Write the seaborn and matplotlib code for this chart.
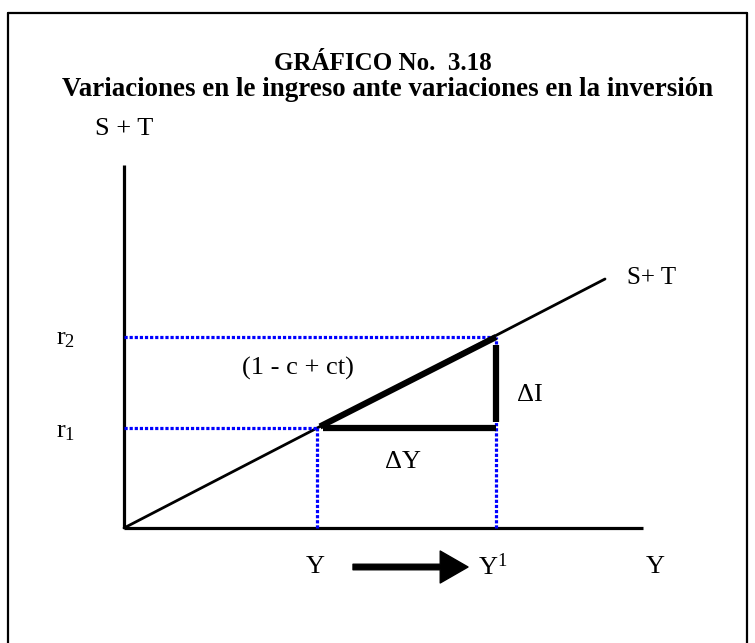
import matplotlib
matplotlib.use("Agg")
import matplotlib.pyplot as plt
import seaborn as sns
import pandas as pd

sns.set_theme(style="white", rc={"text.color": "black"})
plt.rcParams["font.family"] = ["Liberation Serif", "DejaVu Serif"]
plt.rcParams["mathtext.fontset"] = "custom"
plt.rcParams["mathtext.rm"] = "Liberation Serif"
plt.rcParams["mathtext.it"] = "Liberation Serif"

# Savings + taxes schedule (income on x, S+T on y)
line_income = [0, 481]
line_saving = [0, 249]
# Initial and final income, with the matching S+T levels
income_levels = [193, 372]
st_levels = [100, 191]
axis_x_end = 519
axis_y_end = 363

title = "GRÁFICO No.  3.18"
subtitle = "Variaciones en le ingreso ante variaciones en la inversión"

W, H = 755, 643
fig = plt.figure(figsize=(W / 100, H / 100), dpi=100)
ax = fig.add_axes([0, 0, 1, 1])
ax.set_xlim(-124, W - 124)
ax.set_ylim(528 - H, 528)
ax.axis("off")

# outer frame: top, left and right edges
def fig_line(xs, ys):
    fig.add_artist(plt.Line2D([x / W for x in xs], [1 - y / H for y in ys],
                              color="black", lw=1.6, transform=fig.transFigure))

fig_line([8, 747], [13, 13])
fig_line([8, 8], [13, H])
fig_line([747, 747], [13, H])

# axes
ax.plot([0, 0], [0, axis_y_end], color="black", lw=2.3, solid_capstyle="butt")
ax.plot([0, axis_x_end], [0, 0], color="black", lw=2.3, solid_capstyle="butt")

# S+T line
df = pd.DataFrame({"Y": line_income, "ST": line_saving})
sns.lineplot(data=df, x="Y", y="ST", ax=ax, color="black", lw=2.0)

y0, y1 = income_levels
r1, r2 = st_levels
blue = "#0000ff"
dot = dict(color=blue, lw=2.3, linestyle=(0, (1, 0.6)))
ax.plot([0, y1], [r2, r2], **dot)
ax.plot([0, y0], [r1, r1], **dot)
ax.plot([y0, y0], [0, r1], **dot)
ax.plot([y1, y1], [0, r2], **dot)

# highlighted triangle
ax.plot([y0 + 3, y1], [r1 + 1.5, r2], color="black", lw=4.5, solid_capstyle="butt")
ax.plot([y0 + 6, y1], [r1, r1], color="black", lw=4.5, solid_capstyle="butt")
ax.plot([y1, y1], [r1 + 6, r2 - 8], color="black", lw=4.5, solid_capstyle="butt")

fs = 19
ax.text(174, 160, "(1 - c + ct)", fontsize=fs, ha="center", va="center")
ax.text(y1 + 21, 133, "ΔI", fontsize=fs, ha="left", va="center")
ax.text(279, 66, "ΔY", fontsize=fs, ha="center", va="center")
ax.text(503, 250, "S+ T", fontsize=fs - 1, ha="left", va="center")
ax.text(-58, r2 - 2, r"r$_2$", fontsize=fs, ha="center", va="center")
ax.text(-58, r1 - 4, r"r$_1$", fontsize=fs, ha="center", va="center")
ax.text(0, 399, "S + T", fontsize=fs, ha="center", va="center")
ax.text(y0 - 2, -39, "Y", fontsize=fs, ha="center", va="center")
ax.text(y1 - 3, -39, r"Y$^1$", fontsize=fs, ha="center", va="center")
ax.text(531, -39, "Y", fontsize=fs, ha="center", va="center")

# shift arrow from Y to Y1
ax.annotate("", xy=(344, -39), xytext=(229, -39),
            arrowprops=dict(arrowstyle="simple,head_length=1.0,head_width=1.15,tail_width=0.2",
                            color="black", mutation_scale=20, shrinkA=0, shrinkB=0))

fig.text(383 / W, 1 - 63 / H, title, fontsize=18, fontweight="bold",
         ha="center", va="center")
fig.text(388 / W, 1 - 89 / H, subtitle, fontsize=19.4, fontweight="bold",
         ha="center", va="center")

fig.savefig("out.png", dpi=100, facecolor="white")
